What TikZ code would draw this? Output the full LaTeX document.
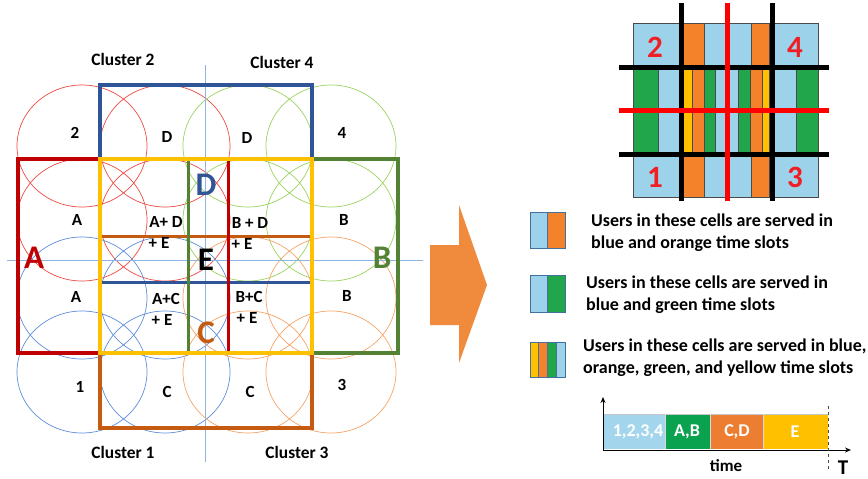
\documentclass[tikz,border=0pt]{standalone}
\usepackage{fontspec}
\setmainfont{Carlito}
\usetikzlibrary{arrows.meta}
\definecolor{cred}{HTML}{EE4B43}
\definecolor{cgreen}{HTML}{9BD35E}
\definecolor{cblue}{HTML}{5E8ED8}
\definecolor{corange}{HTML}{F5A366}
\definecolor{axisblue}{HTML}{8EB4E3}
\definecolor{bred}{HTML}{C00000}
\definecolor{byellow}{HTML}{FFC000}
\definecolor{bblue}{HTML}{2F5597}
\definecolor{bgreen}{HTML}{548235}
\definecolor{borange}{HTML}{C55A11}
\definecolor{lblue}{HTML}{9DD3EA}
\definecolor{torange}{HTML}{F4822A}
\definecolor{tgreen}{HTML}{22A64B}
\definecolor{tyellow}{HTML}{FFC000}
\definecolor{cellgray}{HTML}{4A4A4A}
\definecolor{digred}{HTML}{F01E25}
\definecolor{arroworange}{HTML}{F08A3C}
\definecolor{swborder}{HTML}{41719C}
\definecolor{tlblue}{HTML}{A3D6EC}
\definecolor{tlgreen}{HTML}{0AA24F}
\definecolor{tlorange}{HTML}{ED7D31}
\begin{document}
\begin{tikzpicture}[x=1pt,y=-1pt,
  circ/.style={line width=0.7pt},
  boxline/.style={line width=3.6pt},
  innerline/.style={line width=3pt},
  lbl/.style={font=\bfseries\fontsize{17}{17}\selectfont, inner sep=0pt},
  clbl/.style={font=\bfseries\fontsize{17.4}{17.4}\selectfont, inner sep=0pt},
  biglbl/.style={font=\bfseries\fontsize{33}{33}\selectfont, inner sep=0pt},
  digit/.style={font=\bfseries\fontsize{31}{31}\selectfont, inner sep=0pt, text=digred},
  cell/.style={draw=cellgray, line width=0.6pt},
  gridline/.style={line width=5pt},
  legtext/.style={font=\bfseries\fontsize{18}{21.5}\selectfont, align=left, anchor=west, inner sep=0pt},
  sw/.style={draw=swborder, line width=0.6pt},
  barlbl/.style={font=\bfseries\fontsize{18}{18}\selectfont, text=white, inner sep=0pt}]
\useasboundingbox (0,0) rectangle (868,479);

% ---- circles (cells) ----
\foreach \x in {82,165} \foreach \y in {146,220}
  \draw[circ, cred] (\x,\y) ellipse [x radius=65, y radius=61];
\foreach \x in {248,331} \foreach \y in {146,220}
  \draw[circ, cgreen] (\x,\y) ellipse [x radius=65, y radius=61];
\foreach \x in {82,165} \foreach \y in {298,372}
  \draw[circ, cblue] (\x,\y) ellipse [x radius=65, y radius=61];
\foreach \x in {248,331} \foreach \y in {298,372}
  \draw[circ, corange] (\x,\y) ellipse [x radius=65, y radius=61];

% ---- axes ----
\coordinate (axT) at (205,65);
\coordinate (axB) at (205,462);
\coordinate (axL) at (7,260);
\coordinate (axR) at (423,260);
\draw[axisblue, line width=0.7pt] (axT) -- (axB);
\draw[axisblue, line width=0.7pt] (axL) -- (axR);

% ---- cluster boxes ----
\draw[boxline, bblue] (100,85) rectangle (312,159);
\draw[boxline, bred] (18,159) rectangle (100,353);
\draw[boxline, bgreen] (312,159) rectangle (398,353);
\draw[boxline, borange] (100,353) rectangle (312,428);
\draw[innerline, borange] (100,236) -- (310,236);
\draw[innerline, bblue] (100,282) -- (310,282);
\draw[innerline, bgreen] (188,159) -- (188,353);
\draw[innerline, bred] (228,159) -- (228,353);
\draw[boxline, byellow] (100,159) rectangle (312,353);

% ---- labels ----
\node[clbl] (cl2) at (123,59) {Cluster 2};
\node[clbl] (cl4) at (282,62) {Cluster 4};
\node[clbl] (cl1) at (123,452) {Cluster 1};
\node[clbl] (cl3) at (297,452) {Cluster 3};

\node[lbl] (l2) at (75,133) {2};
\node[lbl] (lD1) at (167,137) {D};
\node[lbl] (lD2) at (247,138) {D};
\node[lbl] (l4) at (342,133) {4};
\node[lbl] (lA1) at (77,220) {A};
\node[lbl] (lAD) at (166,222) {A+ D};
\node[lbl] (lADE) at (159,243) {+ E};
\node[lbl] (lBD) at (250,223) {B + D};
\node[lbl] (lBDE) at (242,244) {+ E};
\node[lbl] (lB1) at (344,220) {B};
\node[lbl] (lA2) at (76,297) {A};
\node[lbl] (lAC) at (166,299) {A+C};
\node[lbl] (lACE) at (162,320) {+ E};
\node[lbl] (lBC) at (249,297) {B+C};
\node[lbl] (lBCE) at (247,318) {+ E};
\node[lbl] (lB2) at (347,296) {B};
\node[lbl] (l1) at (80,387) {1};
\node[lbl] (lC1) at (167,392) {C};
\node[lbl] (lC2) at (250,392) {C};
\node[lbl] (l3) at (342,385) {3};

\node[biglbl, text=bred] (bigA) at (34,258) {A};
\node[biglbl, text=bgreen] (bigB) at (382,258) {B};
\node[biglbl, text=bblue] (bigD) at (206,185) {D};
\node[biglbl, text=black] (bigE) at (206,260) {E};
\node[biglbl, text=borange] (bigC) at (206,333) {C};

% ---- big arrow ----
\fill[arroworange] (430,245) -- (459,245) -- (459,205) -- (487,285) -- (459,363) -- (459,325) -- (430,325) -- cycle;

% ---- top-right grid ----
% top row
\filldraw[cell, fill=lblue] (633,23) rectangle (679,67);
\filldraw[cell, fill=torange] (683,23) rectangle (704,67);
\filldraw[cell, fill=lblue] (704,23) rectangle (751,67);
\filldraw[cell, fill=torange] (751,23) rectangle (769,67);
\filldraw[cell, fill=lblue] (774,23) rectangle (818,67);
% bottom row
\filldraw[cell, fill=lblue] (633,154) rectangle (679,197);
\filldraw[cell, fill=torange] (683,154) rectangle (704,197);
\filldraw[cell, fill=lblue] (704,154) rectangle (751,197);
\filldraw[cell, fill=torange] (751,154) rectangle (769,197);
\filldraw[cell, fill=lblue] (774,154) rectangle (818,197);
% middle strips
\foreach \a/\b/\c in {633/658/tgreen, 658/679/lblue, 683/692/tyellow, 692/704/torange,
  704/715/tgreen, 715/738/lblue, 738/750/tgreen, 750/762/torange, 762/769/tyellow,
  774/796/lblue, 796/818/tgreen}
  \filldraw[cell, fill=\c] (\a,67) rectangle (\b,154);
% grid lines
\draw[gridline, black] (619,67) -- (829,67);
\draw[gridline, black] (619,154) -- (829,154);
\draw[gridline, black] (681,3) -- (681,201);
\draw[gridline, black] (772,3) -- (772,201);
\draw[gridline, red] (619,110) -- (829,110);
\draw[gridline, red] (727,3) -- (727,201);
\node[digit] (d2) at (655,47) {2};
\node[digit] (d4) at (795,47) {4};
\node[digit] (d1) at (655,177) {1};
\node[digit] (d3) at (795,177) {3};

% ---- legend ----
\fill[lblue] (530,212) rectangle (547,248);
\fill[torange] (547,212) rectangle (565,248);
\draw[sw] (530,212) rectangle (565,248) (547,212) -- (547,248);
\node[legtext] (leg1) at (591,232.5) {Users in these cells are served in\\blue and orange time slots};

\fill[lblue] (530,275) rectangle (547,312);
\fill[tgreen] (547,275) rectangle (565,312);
\draw[sw] (530,275) rectangle (565,312) (547,275) -- (547,312);
\node[legtext] (leg2) at (586,294.5) {Users in these cells are served in\\blue and green time slots};

\fill[tyellow] (530,342) rectangle (538.75,377);
\fill[torange] (538.75,342) rectangle (547.5,377);
\fill[tgreen] (547.5,342) rectangle (556.25,377);
\fill[lblue] (556.25,342) rectangle (565,377);
\draw[sw] (530,342) rectangle (565,377) (538.75,342) -- (538.75,377)
  (547.5,342) -- (547.5,377) (556.25,342) -- (556.25,377);
\node[legtext] (leg3) at (583,357.5) {Users in these cells are served in blue,\\orange, green, and yellow time slots};

% ---- timeline ----
\fill[tlblue] (603,414) rectangle (665,449);
\fill[tlgreen] (665,414) rectangle (710,449);
\fill[tlorange] (710,414) rectangle (763,449);
\fill[tyellow] (763,414) rectangle (828,449);
\draw[gray!45, line width=0.6pt] (603,414) -- (828,414);
\draw[white!85!black, line width=0.5pt] (665,414) -- (665,449) (710,414) -- (710,449) (763,414) -- (763,449);
\coordinate (org) at (603,450);
\coordinate (ytop) at (603,397);
\coordinate (xend) at (851,450);
\coordinate (dT) at (828,406);
\coordinate (dB) at (828,471);
\draw[line width=0.9pt, -{Stealth[length=6pt,width=5pt]}] (org) -- (ytop);
\draw[line width=0.9pt, -{Stealth[length=6pt,width=5pt]}] (org) -- (xend);
\draw[dashed, line width=0.7pt, black!70] (dT) -- (dB);
\node[barlbl] (t1) at (638,432) {1,2,3,4};
\node[barlbl] (t2) at (687,432) {A,B};
\node[barlbl] (t3) at (737,432) {C,D};
\node[barlbl] (t4) at (795,432) {E};
\node[font=\bfseries\fontsize{17}{17}\selectfont, inner sep=0pt] (time) at (726,466) {time};
\node[font=\bfseries\fontsize{21}{21}\selectfont, inner sep=0pt] (T) at (843,468) {T};
\end{tikzpicture}
\end{document}
